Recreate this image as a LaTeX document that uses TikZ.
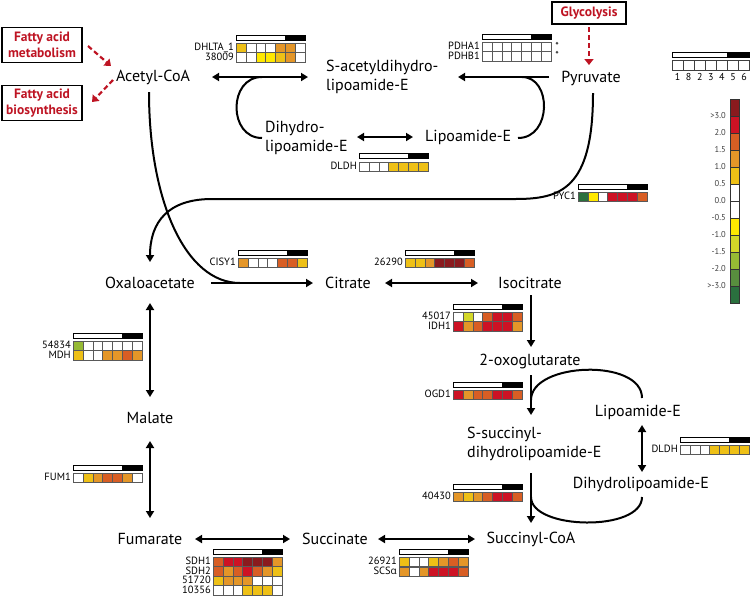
\documentclass[tikz,border=0pt]{standalone}
\usepackage{fontspec}
\setmainfont{PT Sans}
\newfontfamily\greekfont{Open Sans}
\usetikzlibrary{arrows.meta}
\definecolor{cDR}{RGB}{138,26,30}
\definecolor{cR}{RGB}{205,18,36}
\definecolor{cOR}{RGB}{216,94,36}
\definecolor{cO}{RGB}{228,150,40}
\definecolor{cG}{RGB}{238,192,22}
\definecolor{cW}{RGB}{255,255,255}
\definecolor{cY}{RGB}{255,232,0}
\definecolor{cYG}{RGB}{212,216,40}
\definecolor{cLG}{RGB}{150,186,52}
\definecolor{cGR}{RGB}{88,142,62}
\definecolor{cDG}{RGB}{42,112,62}
\definecolor{boxred}{RGB}{190,20,35}
\tikzset{
  met/.style={font=\fontsize{16}{18.5}\selectfont, inner sep=0pt},
  genelbl/.style={font=\fontsize{10.5}{11}\selectfont, inner sep=0pt, anchor=east, text height=7pt, text depth=0.8pt},
  cell/.style={draw=black!65, line width=0.6pt},
  rxn/.style={line width=2pt, -{Triangle[length=7pt,width=8pt]}},
  rev/.style={line width=2pt, {Triangle[length=7pt,width=8pt]}-{Triangle[length=7pt,width=8pt]}},
  link/.style={line width=2pt},
  redarr/.style={draw=boxred, line width=2.2pt, dash pattern=on 5pt off 3pt, -{Triangle[length=6pt,width=9pt]}},
  redbox/.style={draw=black, line width=1.2pt, text=boxred, font=\bfseries\fontsize{13.5}{15.5}\selectfont, align=center, inner sep=2pt},
  scalelbl/.style={font=\fontsize{8.5}{9}\selectfont, text=black!75, inner sep=0pt, anchor=east},
}
\newcommand{\hmbar}[3]{%
  \draw[line width=0.7pt, fill=white] (#1,#2) rectangle ++(5*#3,5);
  \draw[line width=0.7pt, fill=black] (#1+5*#3,#2) rectangle ++(2*#3,5);
}
\newcommand{\hmrow}[5]{%
  \node[genelbl] (#1) at (#2-2,#3+4.8) {#4};
  \foreach \c [count=\i from 0] in {#5} {\draw[cell, fill=\c] (#2+\i*9.9,#3) rectangle ++(9.9,9.5);}
}
\begin{document}
\begin{tikzpicture}[x=1pt,y=-1pt]
\useasboundingbox (0,0) rectangle (751,598);

% boxes
\node[redbox, minimum width=80, minimum height=35] (fam) at (42,45) {Fatty acid\\metabolism};
\node[redbox, minimum width=80, minimum height=35] (fab) at (42,103) {Fatty acid\\biosynthesis};
\node[redbox, minimum width=74, minimum height=22] (glyco) at (589,13) {Glycolysis};

% metabolites
\node[met] (acetyl) at (153,77) {Acetyl-CoA};
\node[met, anchor=west, align=left] (sacetyl) at (326,77) {S-acetyldihydro-\\lipoamide-E};
\node[met, anchor=west, align=left] (dihydro) at (265,138) {Dihydro-\\lipoamide-E};
\node[met, anchor=west] (lipo1) at (425,137) {Lipoamide-E};
\node[met] (pyr) at (591,78) {Pyruvate};
\node[met] (oxalo) at (150,283) {Oxaloacetate};
\node[met] (citrate) at (348,283) {Citrate};
\node[met] (isocit) at (530,283) {Isocitrate};
\node[met] (oxoglu) at (530,361) {2-oxoglutarate};
\node[met] (lipo2) at (638,412) {Lipoamide-E};
\node[met, anchor=west, align=left] (ssucc) at (467,444) {S-succinyl-\\dihydrolipoamide-E};
\node[met] (dhl2) at (641,484) {Dihydrolipoamide-E};
\node[met] (succoa) at (531,539) {Succinyl-CoA};
\node[met] (succ) at (335,539) {Succinate};
\node[met] (fum) at (150,539) {Fumarate};
\node[met] (mal) at (150,418) {Malate};

% coordinates for connector ends
\coordinate (famE) at (88,46);
\coordinate (acIn) at (111,66);
\coordinate (acOut) at (113,80);
\coordinate (fabE) at (92,102);
\coordinate (glyS) at (589,27);
\coordinate (pyrN) at (589,65);

% red dashed arrows
\draw[redarr] (famE) -- (acIn);
\draw[redarr] (acOut) -- (fabE);
\draw[redarr] (glyS) -- (pyrN);

% top reactions
\draw[rev] (212,77) coordinate (a1) -- (308,77) coordinate (a2);
\draw[rxn] (549,77) coordinate (p1) -- (458,77) coordinate (p2);
\draw[rev] (357,137) coordinate (d1) -- (413,137) coordinate (d2);
\draw[link] (262,138) .. controls (228,138) and (228,77) .. (262,77);
\draw[link] (518,138) .. controls (552,138) and (552,77) .. (522,77);

% pyruvate -> oxaloacetate
\draw[link, -{Triangle[length=7pt,width=8pt]}] (593,93) .. controls (593,190) and (560,199) .. (515,199)
  -- (212,199) .. controls (168,199) and (150,222) .. (150,262);
% acetyl-CoA -> citrate
\draw[link] (149,92) .. controls (149,200) and (185,283) .. (240,283);
\draw[rxn] (211,283) -- (313,283);
\draw[rev] (385,283) -- (478,283);
\draw[rxn] (531,295) -- (531,347);
\draw[rxn] (531,375) -- (531,415);
\draw[link] (531,400) .. controls (531,362) and (642,358) .. (642,398);
\draw[rev] (642,425) -- (642,472);
\draw[rxn] (531,473) -- (531,523);
\draw[link] (531,497) .. controls (531,530) and (642,532) .. (642,497);
\draw[rev] (378,539) -- (475,539);
\draw[rev] (195,539) -- (290,539);
\draw[rev] (150,303) -- (150,397);
\draw[rev] (150,441) -- (150,518);

% heatmaps
\hmbar{236}{35}{9.9}
\hmrow{hDHLTA}{236}{43}{DHLTA\_1}{cG,cW,cW,cW,cO,cO,cW}
\hmrow{h38009}{236}{52.5}{38009}{cW,cW,cY,cY,cG,cO,cW}

\hmbar{482}{34}{9.9}
\hmrow{hPDHA}{482}{42}{PDHA1}{cW,cW,cW,cW,cW,cW,cW}
\hmrow{hPDHB}{482}{51.5}{PDHB1}{cW,cW,cW,cW,cW,cW,cW}
\node[font=\fontsize{10}{10}\selectfont, inner sep=0pt] (ast1) at (557,46) {*};
\node[font=\fontsize{10}{10}\selectfont, inner sep=0pt] (ast2) at (557,55) {*};

\hmbar{359}{153}{9.9}
\hmrow{hDLDH1}{359}{162}{DLDH}{cW,cW,cW,cG,cG,cG,cG}

\hmbar{578}{184}{9.9}
\hmrow{hPYC}{578}{192}{PYC1}{cDG,cY,cW,cR,cR,cR,cOR}

\hmbar{238}{250}{9.9}
\hmrow{hCISY}{238}{258}{CISY1}{cO,cW,cW,cW,cOR,cOR,cG}

\hmbar{405}{250}{9.9}
\hmrow{h26290}{405}{258}{26290}{cG,cG,cO,cDR,cDR,cDR,cOR}

\hmbar{453}{304}{9.9}
\hmrow{h45017}{453}{312}{45017}{cW,cYG,cW,cOR,cR,cR,cOR}
\hmrow{hIDH}{453}{321.5}{IDH1}{cR,cO,cOR,cR,cR,cR,cO}

\hmbar{453}{382}{9.9}
\hmrow{hOGD}{453}{390}{OGD1}{cR,cO,cOR,cOR,cR,cR,cOR}

\hmbar{680}{437}{9.9}
\hmrow{hDLDH2}{680}{445}{DLDH}{cW,cW,cW,cG,cG,cG,cG}

\hmbar{453}{484}{9.9}
\hmrow{h40430}{453}{492}{40430}{cO,cG,cO,cOR,cR,cR,cOR}

\hmbar{73}{333}{9.9}
\hmrow{h54834}{73}{341}{54834}{cLG,cW,cW,cW,cW,cW,cW}
\hmrow{hMDH}{73}{350.5}{MDH}{cG,cW,cW,cO,cO,cOR,cO}

\hmbar{73}{465}{9.9}
\hmrow{hFUM}{73}{473}{FUM1}{cW,cG,cO,cOR,cOR,cO,cW}

\hmbar{213}{549}{9.9}
\hmrow{hSDH1}{213}{557}{SDH1}{cOR,cR,cR,cDR,cDR,cDR,cO}
\hmrow{hSDH2}{213}{566.5}{SDH2}{cOR,cO,cOR,cR,cOR,cO,cG}
\hmrow{h51720}{213}{576}{51720}{cG,cO,cO,cO,cW,cW,cW}
\hmrow{h10356}{213}{585.5}{10356}{cW,cW,cW,cG,cG,cG,cW}

\hmbar{399}{549}{9.9}
\hmrow{h26921}{399}{557}{26921}{cG,cW,cW,cG,cO,cOR,cO}
\hmrow{hSCS}{399}{567}{SCS{\greekfont\fontsize{10}{11}\selectfont α}}{cO,cW,cO,cR,cR,cR,cOR}

% legend: sample order
\hmbar{672}{52}{11.1}
\foreach \n [count=\i from 0] in {1,8,2,3,4,5,6} {
  \draw[cell, draw=black!75] (672+\i*11.1,60) rectangle ++(11.1,10);
  \node[font=\fontsize{10}{10}\selectfont, inner sep=0pt] (num\i) at (672+\i*11.1+5.55,77) {\n};
}

% legend: colour scale
\foreach \c [count=\i from 0] in {cDR,cR,cOR,cO,cG,cW,cW,cY,cYG,cLG,cGR,cDG}
  \draw[line width=0.6pt, draw=black!80, fill=\c] (730,99+\i*17) rectangle ++(9,17);
\foreach \t [count=\i from 1] in {>3.0,2.0,1.5,1.0,0.5,0.0,-0.5,-1.0,-1.5,-2.0,>-3.0}
  \node[scalelbl] (sc\i) at (726,99+\i*17) {\t};
\end{tikzpicture}
\end{document}
